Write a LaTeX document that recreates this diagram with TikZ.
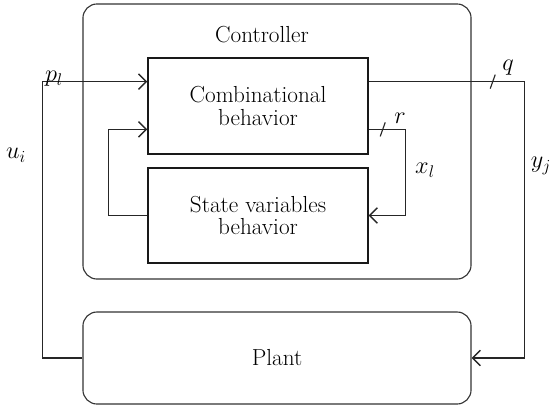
\documentclass[tikz,border=0pt]{standalone}
\usepackage{amsmath}
\usepackage{amssymb}
\usetikzlibrary{arrows.meta}
\usetikzlibrary{positioning}
\usetikzlibrary{calc}

\tikzset{
  frame/.style={draw=black!80, line width=0.8pt, rounded corners=10pt,
    minimum width=9.7cm},
  block/.style={draw=black!90, line width=1pt, minimum width=5.5cm,
    align=center},
  link/.style={draw=black!85, line width=1pt,
    -{Straight Barb[length=5.5pt,width=11pt]}},
  tick/.style={draw=black!85, line width=0.8pt},
}

\begin{document}
\begin{tikzpicture}[x=0.025cm, y=-0.025cm, font=\fontsize{16.5}{19}\selectfont]
    \useasboundingbox (0,0) rectangle (554,410);

    \node (ctrl) [frame, minimum height=6.875cm] at (277,141.5) {};
    \node (ctrltxt) at (262,35) {Controller};
    \node (comb) [block, minimum height=2.4cm] at (258,106)
      {Combinational\\[-3pt]behavior};
    \node (state) [block, minimum height=2.375cm] at (258,215.5)
      {State variables\\[-3pt]behavior};
    \node (plant) [frame, minimum height=2.3cm] at (277,358) {Plant};

    % ports on the combinational block
    \coordinate (combin) at ($(comb.north west)!0.25!(comb.south west)$);
    \coordinate (combfb) at ($(comb.north west)!0.74!(comb.south west)$);
    \coordinate (combout) at ($(comb.north east)!0.25!(comb.south east)$);
    \coordinate (combr) at ($(comb.north east)!0.74!(comb.south east)$);

    \draw[link] (plant.west) -- ++(-40,0) |- (combin);
    \draw[link] (combout) -- ++(156,0) coordinate (qturn) |- (plant.east);
    \draw[link] (combr) -- ++(37,0) coordinate (rturn) |- (state.east);
    \draw[link] (state.west) -- ++(-39,0) |- (combfb);

    % bus width marks
    \coordinate (qmark) at ($(combout)+(124,0)$);
    \coordinate (rmark) at ($(combr)+(14,0)$);
    \draw[tick] (qmark) ++(-2.5,7) -- ++(5,-14);
    \draw[tick] (rmark) ++(-2.5,7) -- ++(5,-14);

    \node (pl) at (54,79) {$p_l$};
    \node (q) at (508,68) {$q$};
    \node (r) at (400,118) {$r$};
    \node (xl) at (425,170) {$x_l$};
    \node (ui) at (16,155) {$u_i$};
    \node (yj) at (541,166) {$y_j$};
\end{tikzpicture}
\end{document}
